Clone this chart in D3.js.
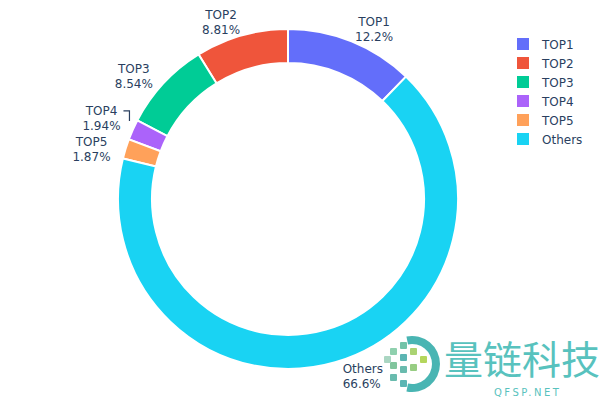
<!DOCTYPE html>
<html><head><meta charset="utf-8">
<script src="https://cdn.jsdelivr.net/npm/d3@7"></script>
<style>body{margin:0;background:#fff}text{font-family:"DejaVu Sans",sans-serif}</style>
</head><body><div id="chart"></div>
<script>
const labels = ["TOP1", "TOP2", "TOP3", "TOP4", "TOP5", "Others"];
const values = [12.2, 8.81, 8.54, 1.94, 1.87, 66.6];
const colors = ["#636efa", "#ef553b", "#00cc96", "#ab63fa", "#ffa15a", "#19d3f3"];

const W = 600, H = 400, cx = 288, cy = 199, R = 170, r = 136;
const svg = d3.select("#chart").append("svg").attr("width", W).attr("height", H);

const total = d3.sum(values);
const a0 = 2 * Math.PI * values[0] / total;
const pie = d3.pie().sort(null).startAngle(a0).endAngle(a0 - 2 * Math.PI);
const arcs = pie(values);
const arc = d3.arc().innerRadius(r).outerRadius(R);

const g = svg.append("g").attr("transform", `translate(${cx},${cy})`);
g.selectAll("path").data(arcs).enter().append("path")
  .attr("d", arc).attr("fill", (d, i) => colors[i])
  .attr("stroke", "#fff").attr("stroke-width", 2);

// outside labels
const fmt = v => d3.format(".3")(v) + "%";
const pos = arcs.map((d, i) => {
  const m = (d.startAngle + d.endAngle) / 2;
  const s = Math.sin(m), c = -Math.cos(m);
  const p = { i, s, c, anchor: "middle" };
  if (c > 0.9) { // bottom label sits close to the ring
    p.anchor = "start"; p.x = s * (R + 5) + 6; p.y = c * (R + 5) + 8;
  } else {
    p.x = s * (R + 20) + (s >= 0 ? 1 : -1) * 15;
    p.y = c * (R + 20) + 5;
  }
  return p;
});
// push TOP4 up if it collides with TOP5
if (pos[4].y - pos[3].y < 30) { pos[3].shifted = true; pos[3].y = pos[4].y - 31; pos[3].x += 2; }
pos.forEach(p => {
  const t = g.append("text").attr("text-anchor", p.anchor)
    .attr("font-size", 12).attr("fill", "#2a3f5f");
  t.append("tspan").attr("x", p.x).attr("y", p.y - 2).text(labels[p.i]);
  t.append("tspan").attr("x", p.x).attr("y", p.y + 13).text(fmt(values[p.i]));
  if (p.shifted) {
    const lx = p.x + 22, ly = p.y - 6;
    g.append("path").attr("fill", "none").attr("stroke", "#2a3f5f").attr("stroke-width", 1.2)
      .attr("d", `M${lx},${ly}H${lx + 6}V${ly + 10}`);
  }
});

// legend
const lg = svg.append("g").attr("transform", "translate(517,38)");
labels.forEach((l, i) => {
  const row = lg.append("g").attr("transform", `translate(0,${i * 19})`);
  row.append("rect").attr("width", 12).attr("height", 12).attr("fill", colors[i]);
  row.append("text").attr("x", 25).attr("y", 10.5).attr("font-size", 12).attr("fill", "#2a3f5f").text(l);
});

// watermark
const wm = svg.append("g").attr("transform", "translate(382,334)").attr("opacity", 0.85);
wm.append("path").attr("d", d3.arc()({innerRadius: 20, outerRadius: 28, startAngle: -0.2, endAngle: Math.PI + 0.2}))
  .attr("transform", "translate(30,30)").attr("fill", "#2aa9a6");
[[8,14,"#7cc8a0"],[18,8,"#5ab99a"],[18,20,"#3fa9a6"],[28,14,"#9ccc5a"],[38,22,"#a8d040"],[8,28,"#6cbc8c"],[18,32,"#4fb0a0"],[28,30,"#86c56e"],[8,40,"#4fb0a0"],[18,46,"#3fa9a6"],[2,22,"#9ccfb8"]]
  .forEach(([x, y, c]) => wm.append("rect").attr("x", x).attr("y", y).attr("width", 7).attr("height", 7).attr("rx", 1).attr("fill", c));
wm.append("text").attr("x", 62).attr("y", 40).attr("font-size", 39).attr("fill", "#3bb8b3")
  .style("font-family", "'Noto Sans CJK SC'").text("量链科技");
wm.append("text").attr("x", 112).attr("y", 62).attr("font-size", 10).attr("fill", "#3bb8b3")
  .attr("letter-spacing", 2.5).text("QFSP.NET");
</script></body></html>
